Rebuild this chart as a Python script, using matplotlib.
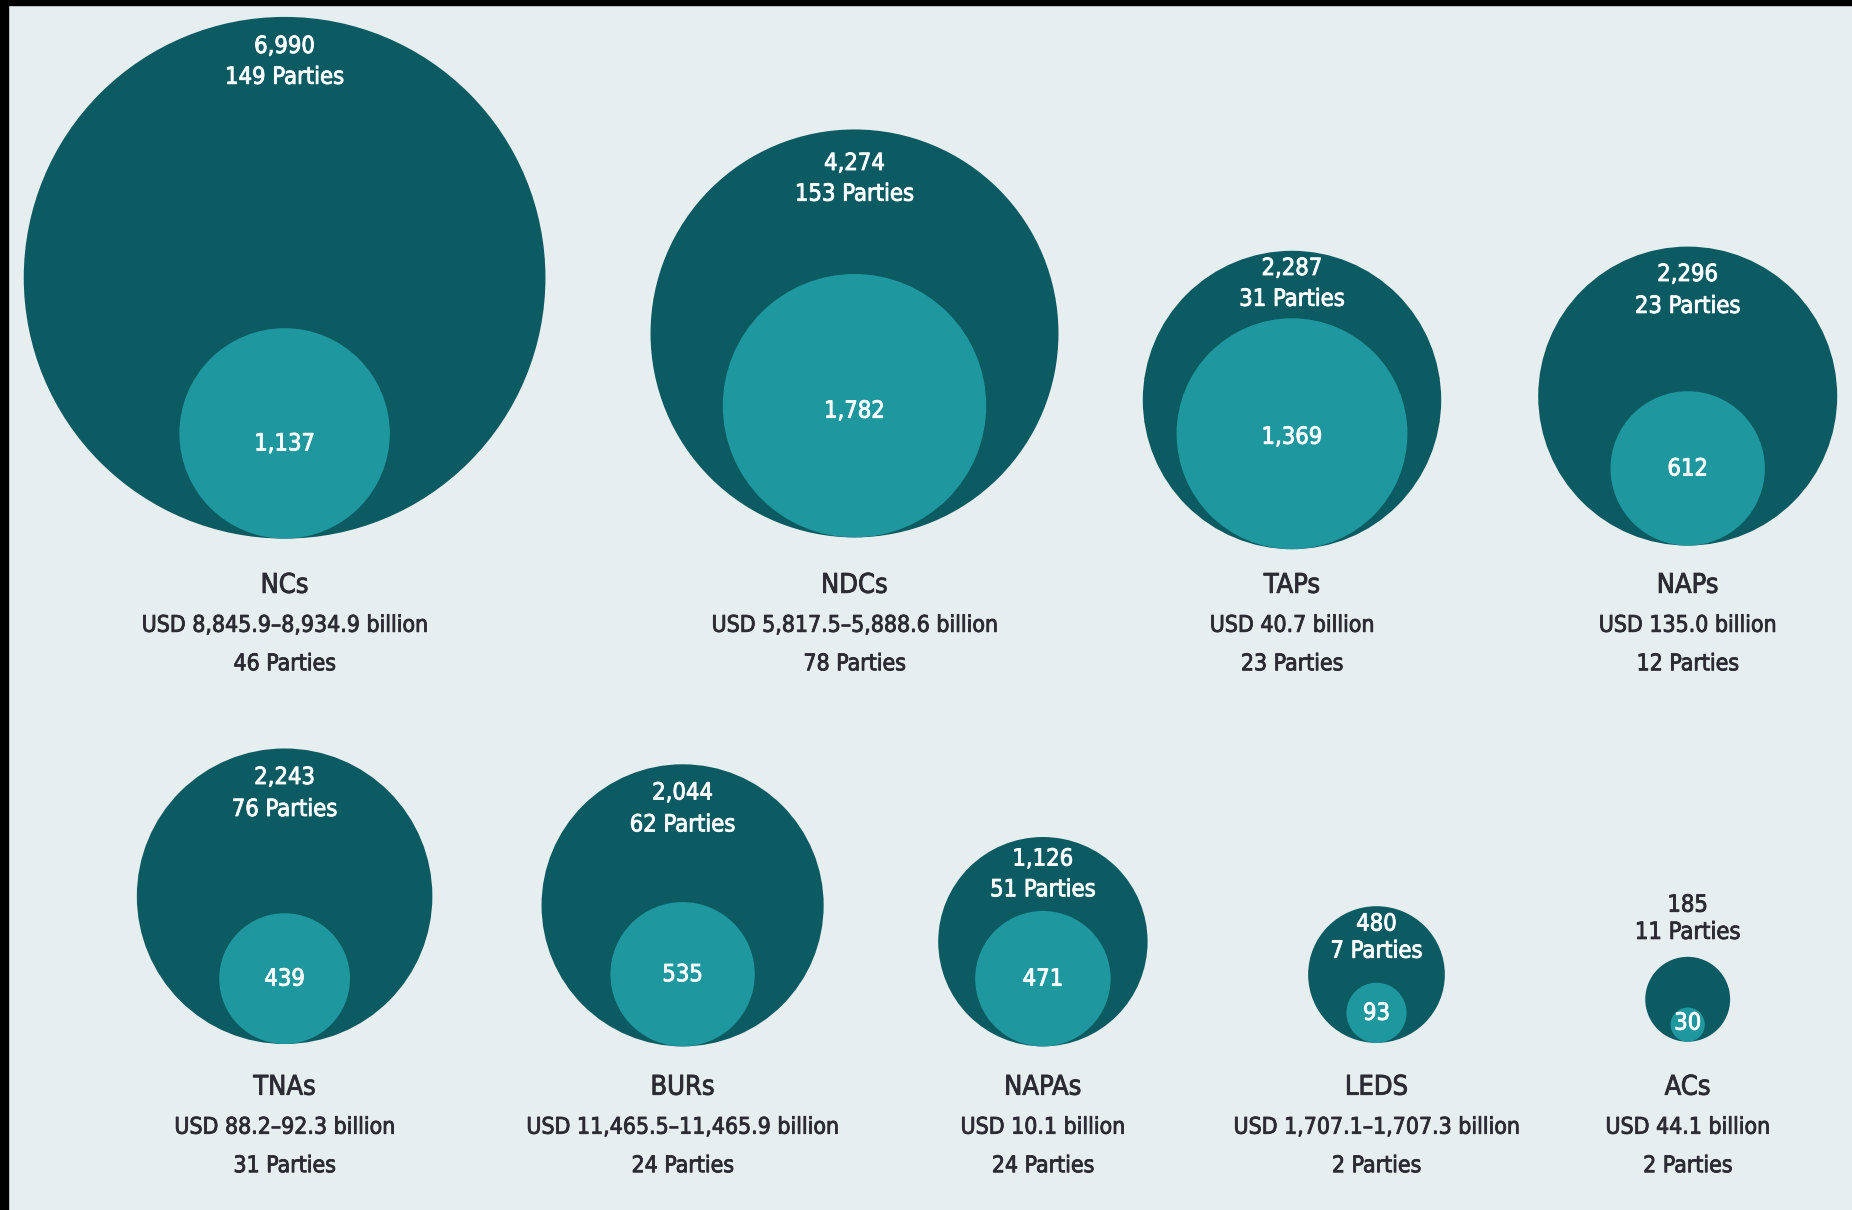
import numpy as np
import matplotlib
matplotlib.use("Agg")
import matplotlib.pyplot as plt
import matplotlib.patheffects as pe
from matplotlib.patches import Circle, Rectangle

## Data
names = ["NCs", "NDCs", "TAPs", "NAPs", "TNAs", "BURs", "NAPAs", "LEDS", "ACs"]
total_values = [6990, 4274, 2287, 2296, 2243, 2044, 1126, 480, 185]
total_parties = [149, 153, 31, 23, 76, 62, 51, 7, 11]
costed_values = [1137, 1782, 1369, 612, 439, 535, 471, 93, 30]
usd_labels = ["USD 8,845.9\u20138,934.9 billion", "USD 5,817.5\u20135,888.6 billion",
              "USD 40.7 billion", "USD 135.0 billion", "USD 88.2\u201392.3 billion",
              "USD 11,465.5\u201311,465.9 billion", "USD 10.1 billion",
              "USD 1,707.1\u20131,707.3 billion", "USD 44.1 billion"]
costed_parties = [46, 78, 23, 12, 31, 24, 24, 2, 2]

## Layout (pixels of the 1852x1210 picture)
W, H = 1852, 1210
cx = [284.6, 854.5, 1292.0, 1687.7, 284.6, 682.6, 1042.9, 1376.5, 1687.7]
bottom = [538.6, 537.4, 549.2, 545.6, 1044.0, 1046.4, 1046.4, 1042.9, 1041.7]
val_y = [46, 163, 268, 274, 777, 792.5, 858.6, 923.6, 904.7]
par_y = [76.8, 193.7, 298.8, 305.9, 809, 824.4, 889.3, 950.7, 931.9]
name_y = [585.8, 585.8, 585.8, 585.8, 1087.7, 1087.7, 1087.7, 1087.7, 1087.7]
inner_dy = [10, 5, 3, 0, 0, 0, 0, 0, -2]  # small nudge of the inner numbers
k = 3.12  # radius = k * sqrt(value)

bg = "#e6eef0"
dark = "#0d5b62"
light = "#1f979e"
txt = "#2b2b33"
font = ["Liberation Sans Narrow", "DejaVu Sans"]
st = "condensed"


def label(x, y, s, col, size):
    # thin stroke in the same colour to make the text a little heavier
    ax.text(x, y, s, ha="center", va="center", color=col, fontsize=size,
            family=font, fontstretch=st, zorder=3,
            path_effects=[pe.withStroke(linewidth=0.6, foreground=col)])


fig = plt.figure(figsize=(W / 100, H / 100), dpi=100)
fig.patch.set_facecolor(bg)
ax = fig.add_axes([0, 0, 1, 1])
ax.set_xlim(0, W)
ax.set_ylim(H, 0)
ax.set_aspect("equal")
ax.axis("off")

# black frame strips at left and top
ax.add_patch(Rectangle((0, 0), W, 5, color="black", zorder=5))
ax.add_patch(Rectangle((0, 0), 8, H, color="black", zorder=5))

for i in range(len(names)):
    R = k * np.sqrt(total_values[i])
    r = k * np.sqrt(costed_values[i])
    ax.add_patch(Circle((cx[i], bottom[i] - R), R, color=dark, lw=0, zorder=1))
    ax.add_patch(Circle((cx[i], bottom[i] - r), r, color=light, lw=0, zorder=2))

    top_col = "white" if val_y[i] > bottom[i] - 2 * R else txt
    label(cx[i], val_y[i], f"{total_values[i]:,}", top_col, 17)
    label(cx[i], par_y[i], f"{total_parties[i]} Parties", top_col, 17)
    label(cx[i], bottom[i] - r + inner_dy[i], f"{costed_values[i]:,}", "white", 17)

    label(cx[i], name_y[i], names[i], txt, 19.5)
    label(cx[i], name_y[i] + 39.5, usd_labels[i], txt, 16.5)
    label(cx[i], name_y[i] + 78, f"{costed_parties[i]} Parties", txt, 16.5)

fig.savefig("out.png", dpi=100, facecolor=bg)
